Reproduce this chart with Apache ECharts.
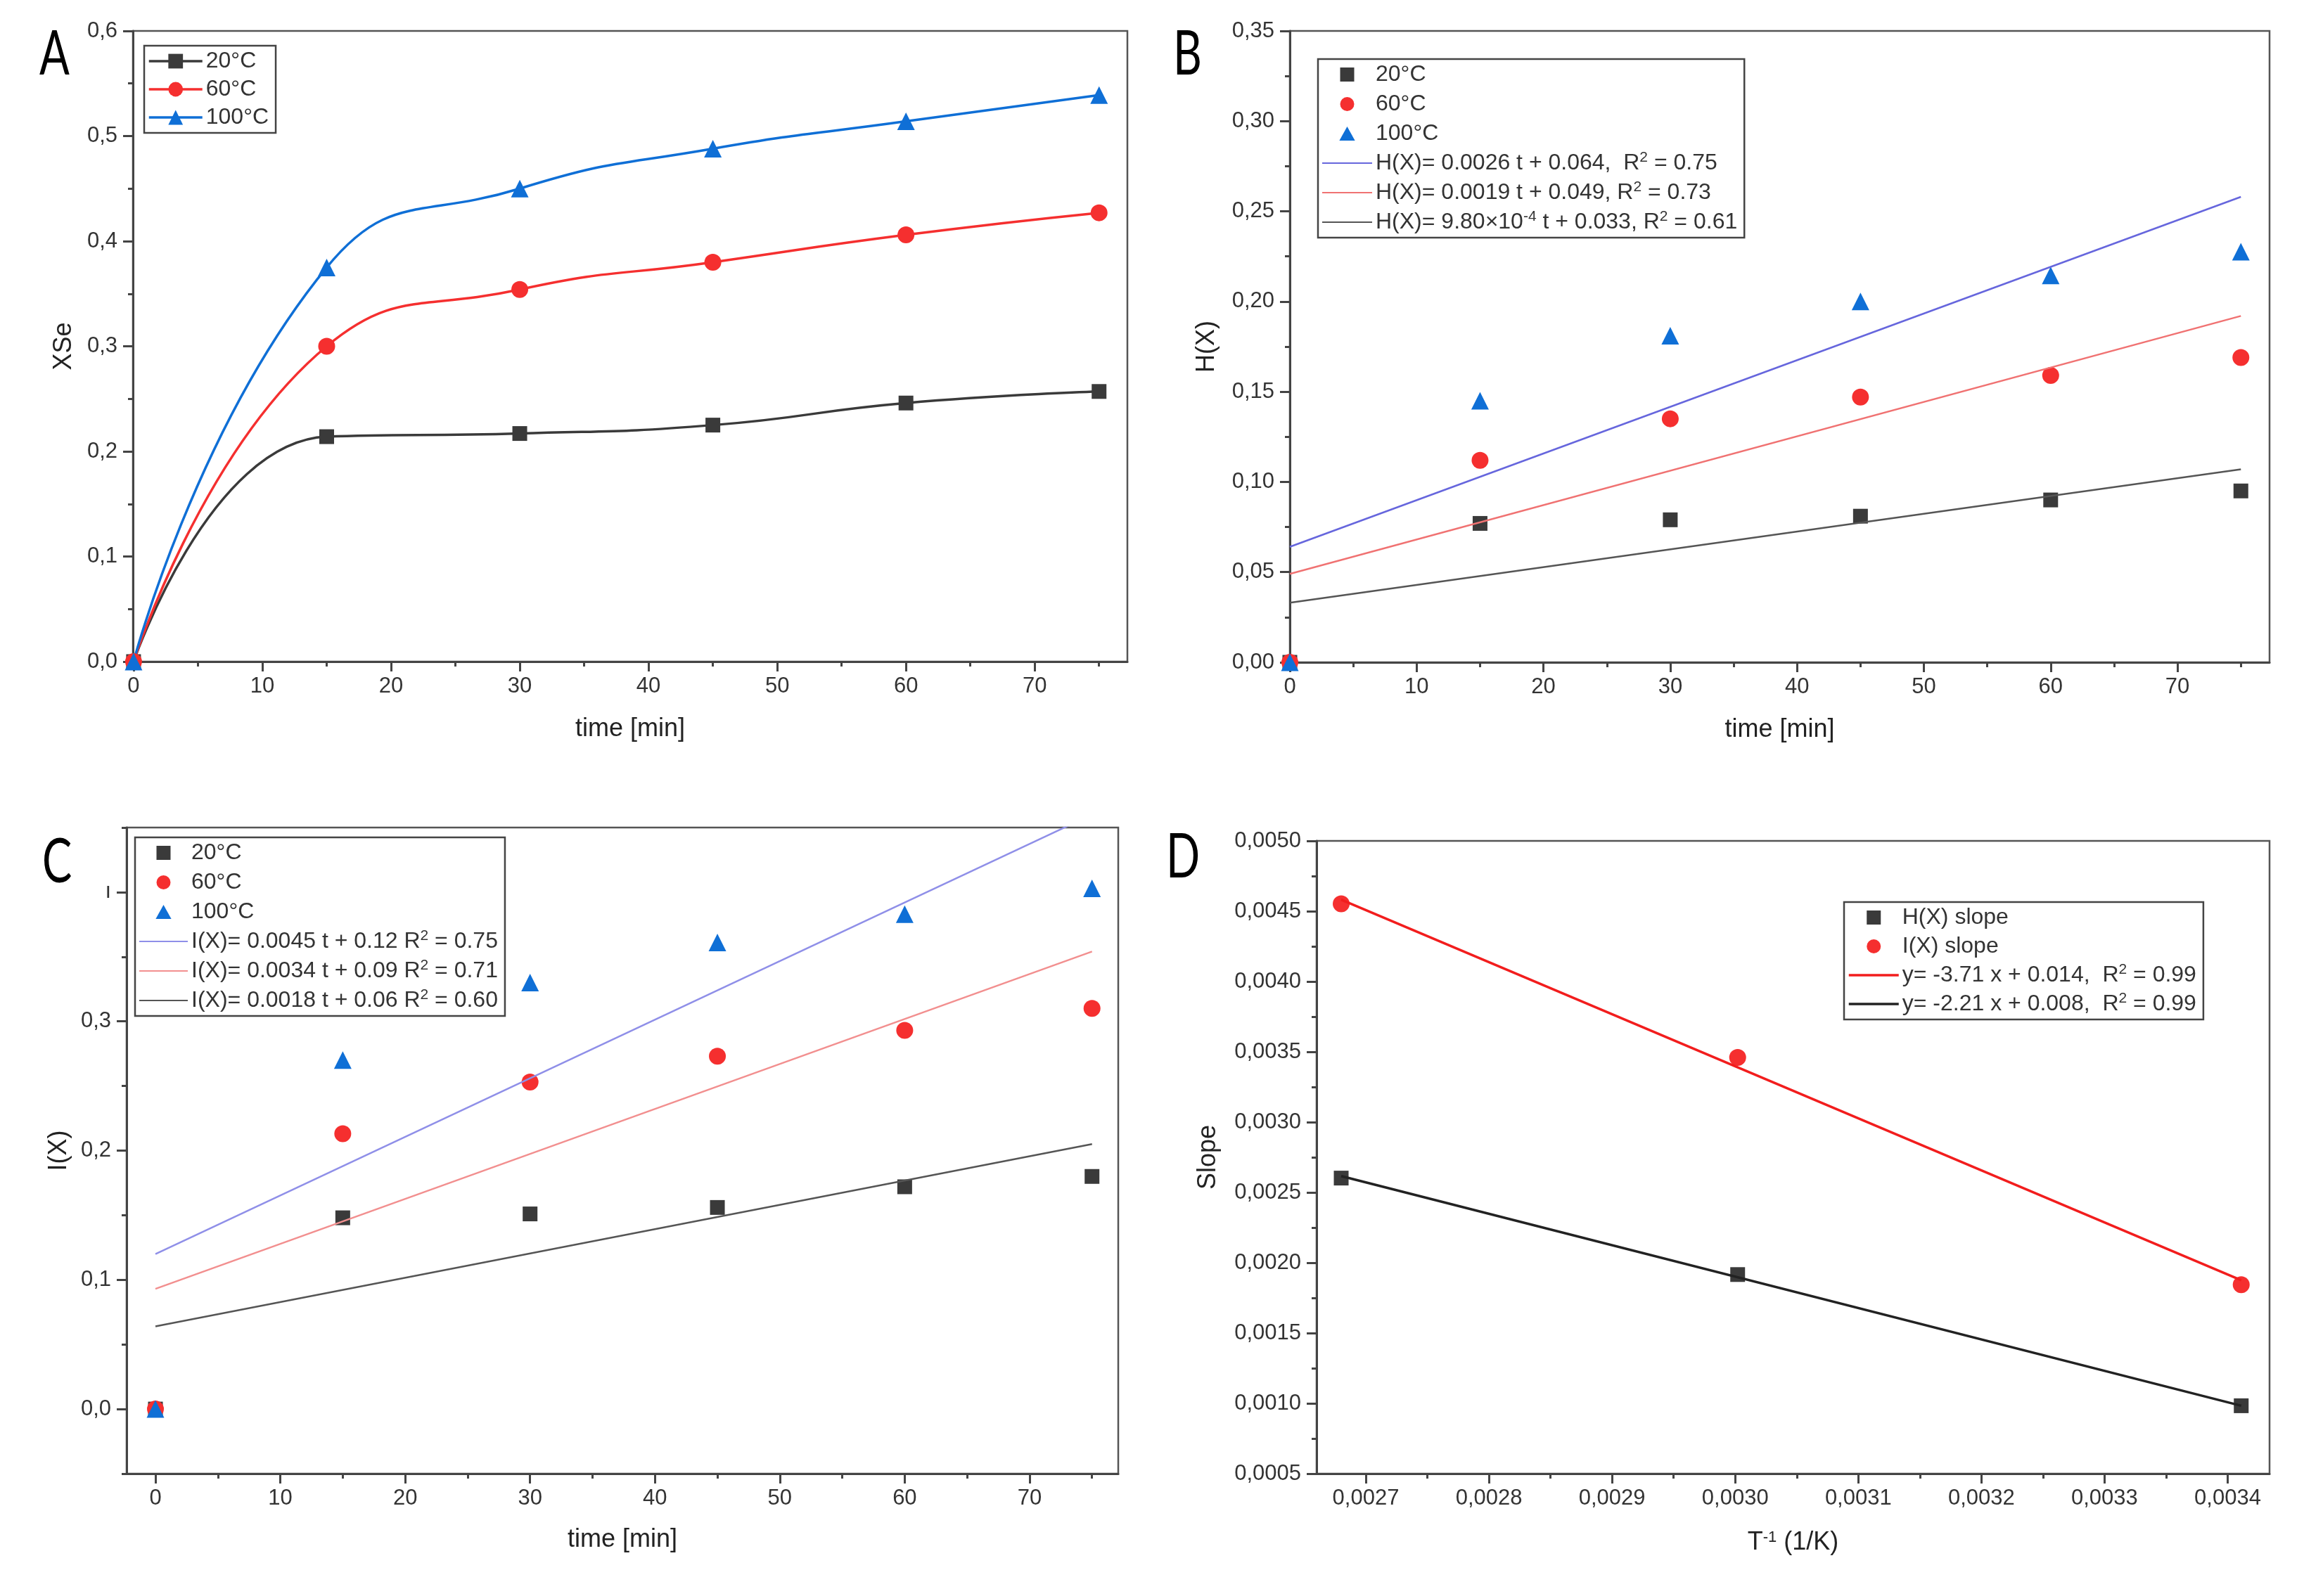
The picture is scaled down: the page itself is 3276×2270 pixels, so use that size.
<!DOCTYPE html>
<html>
<head>
<meta charset="utf-8">
<script src="https://cdn.jsdelivr.net/npm/echarts@6/dist/echarts.min.js"></script>
<style>
  html, body { margin: 0; padding: 0; background: #fff; }
  #chart { width: 3276px; height: 2270px; }
</style>
</head>
<body>
<div id="chart"></div>
<script>
// 时间点 (min)
const timeMin = [0, 15, 30, 45, 60, 75]

// A: XSe
const xse20 = [0, 0.214, 0.217, 0.225, 0.246, 0.257]
const xse60 = [0, 0.300, 0.354, 0.380, 0.406, 0.427]
const xse100 = [0, 0.375, 0.450, 0.488, 0.514, 0.539]

// B: H(X)
const hx20 = [0, 0.077, 0.079, 0.081, 0.090, 0.095]
const hx60 = [0, 0.112, 0.135, 0.147, 0.159, 0.169]
const hx100 = [0, 0.145, 0.181, 0.200, 0.2145, 0.2276]
const fitT = [0, 75]
const hFit100 = [0.064, 0.258]
const hFit60 = [0.049, 0.192]
const hFit20 = [0.033, 0.107]

// C: I(X)
const ix20 = [0, 0.148, 0.151, 0.156, 0.172, 0.180]
const ix60 = [0, 0.213, 0.253, 0.273, 0.293, 0.310]
const ix100 = [0, 0.270, 0.330, 0.361, 0.383, 0.403]
const iFit100 = [0.120, 0.460]
const iFit60 = [0.093, 0.354]
const iFit20 = [0.064, 0.205]

// D: slope vs 1/T
const invT = [0.002680, 0.003002, 0.003411]
const slopeH = [0.002602, 0.001916, 0.000983]
const slopeI = [0.004553, 0.003460, 0.001844]
const dFitT = [0.002680, 0.003411]
const dFitI = [0.004582, 0.001876]
const dFitH = [0.002616, 0.000983]

// 刻度
const tTicks = [0, 10, 20, 30, 40, 50, 60, 70]
const tLabels = ['0', '10', '20', '30', '40', '50', '60', '70']
const tMinor = [5, 15, 25, 35, 45, 55, 65, 75]
const aYTicks = [0, 0.1, 0.2, 0.3, 0.4, 0.5, 0.6]
const aYLabels = ['0,0', '0,1', '0,2', '0,3', '0,4', '0,5', '0,6']
const aYMinor = [0.05, 0.15, 0.25, 0.35, 0.45, 0.55]
const bYTicks = [0, 0.05, 0.1, 0.15, 0.2, 0.25, 0.3, 0.35]
const bYLabels = ['0,00', '0,05', '0,10', '0,15', '0,20', '0,25', '0,30', '0,35']
const bYMinor = [0.025, 0.075, 0.125, 0.175, 0.225, 0.275, 0.325]
const cYTicks = [0, 0.1, 0.2, 0.3, 0.4]
const cYLabels = ['0,0', '0,1', '0,2', '0,3', 'ı']
const cYMinor = [-0.05, 0.05, 0.15, 0.25, 0.35, 0.45]
const dXTicks = [0.0027, 0.0028, 0.0029, 0.0030, 0.0031, 0.0032, 0.0033, 0.0034]
const dXLabels = ['0,0027', '0,0028', '0,0029', '0,0030', '0,0031', '0,0032', '0,0033', '0,0034']
const dXMinor = [0.00275, 0.00285, 0.00295, 0.00305, 0.00315, 0.00325, 0.00335]
const dYTicks = [0.0005, 0.0010, 0.0015, 0.0020, 0.0025, 0.0030, 0.0035, 0.0040, 0.0045, 0.0050]
const dYLabels = ['0,0005', '0,0010', '0,0015', '0,0020', '0,0025', '0,0030', '0,0035', '0,0040', '0,0045', '0,0050']
const dYMinor = [0.00075, 0.00125, 0.00175, 0.00225, 0.00275, 0.00325, 0.00375, 0.00425, 0.00475]

const FONT = 'Liberation Sans'
const AX = '#444'
const BLACK = '#3a3a3a'
const RED = '#f52f2f'
const BLUE = '#0f6fd6'

const machart = echarts.init(document.getElementById('chart'))

const pairs = (xs, ys) => xs.map((x, i) => [x, ys[i]])
const fmt = (ticks, labels) => v => {
	const i = ticks.findIndex(t => Math.abs(t - v) < 1e-10)
	return i >= 0 ? labels[i] : ''
}

// 主刻度轴
const major = (gi, pos, min, max, ticks, labels, name, nameGap, margin) => ({
	type: 'value', gridIndex: gi, position: pos, min: min, max: max,
	axisLine: { show: true, onZero: false, lineStyle: { color: AX, width: 3 } },
	axisTick: { show: true, inside: false, length: 14, customValues: ticks, lineStyle: { color: AX, width: 3 } },
	axisLabel: { customValues: ticks, formatter: fmt(ticks, labels), margin: margin, fontSize: 31, color: '#333', fontFamily: FONT },
	splitLine: { show: false },
	name: name, nameLocation: 'middle', nameGap: nameGap,
	nameTextStyle: {
		fontSize: 36, color: '#222', fontFamily: FONT,
		rich: { s: { fontSize: 22, lineHeight: 22, verticalAlign: 'top', color: '#222', fontFamily: FONT } }
	}
})
// 次刻度轴
const minor = (gi, pos, min, max, ticks) => ({
	type: 'value', gridIndex: gi, position: pos, min: min, max: max,
	axisLine: { show: false, onZero: false },
	axisTick: { show: true, inside: false, length: 7, customValues: ticks, lineStyle: { color: AX, width: 3 } },
	axisLabel: { show: false },
	splitLine: { show: false }
})

const grid = (left, top, width, height) => ({
	left: left, top: top, width: width, height: height,
	show: true, borderColor: '#555', borderWidth: 2.5, backgroundColor: 'transparent'
})

const legendNames = {
	a20: '20°C', a60: '60°C', a100: '100°C',
	b20: '20°C', b60: '60°C', b100: '100°C',
	bf100: 'H(X)= 0.0026 t + 0.064,  R{s|2} = 0.75',
	bf60: 'H(X)= 0.0019 t + 0.049, R{s|2} = 0.73',
	bf20: 'H(X)= 9.80×10{s|-4} t + 0.033, R{s|2} = 0.61',
	c20: '20°C', c60: '60°C', c100: '100°C',
	cf100: 'I(X)= 0.0045 t + 0.12 R{s|2} = 0.75',
	cf60: 'I(X)= 0.0034 t + 0.09 R{s|2} = 0.71',
	cf20: 'I(X)= 0.0018 t + 0.06 R{s|2} = 0.60',
	dH: 'H(X) slope', dI: 'I(X) slope',
	dfI: 'y= -3.71 x + 0.014,  R{s|2} = 0.99',
	dfH: 'y= -2.21 x + 0.008,  R{s|2} = 0.99'
}

// 图例图标: 拟合线只画线, 散点保持比例
const lineOnly = name => ({ name: name, itemStyle: { opacity: 0 } })
const SQUARE = 'path://M0,0L10,0L10,10L0,10Z'
const TRI = 'path://M5,0L10,9L0,9Z'
const icon = (name, path) => ({ name: name, icon: path })

const legend = (left, top, itemWidth, itemHeight, itemGap, data, lw) => ({
	orient: 'vertical', left: left, top: top,
	itemWidth: itemWidth, itemHeight: itemHeight, itemGap: itemGap,
	padding: [4, 10, 4, 5],
	borderColor: AX, borderWidth: 2.5, borderRadius: 0, backgroundColor: '#fff',
	selectedMode: false, symbolKeepAspect: true,
	lineStyle: lw ? { width: lw } : {},
	data: data,
	formatter: name => legendNames[name],
	textStyle: {
		fontSize: 32, lineHeight: 36, color: '#333', fontFamily: FONT,
		rich: { s: { fontSize: 21, lineHeight: 21, verticalAlign: 'top', color: '#333', fontFamily: FONT } }
	}
})

const curve = (name, xi, ys, color, symbol, size) => ({
	name: name, type: 'line', xAxisIndex: xi, yAxisIndex: xi,
	data: pairs(timeMin, ys), smooth: true, clip: false,
	symbol: symbol, symbolSize: size, showSymbol: true,
	lineStyle: { color: color, width: 3.5 }, itemStyle: { color: color }
})
const dots = (name, xi, xs, ys, color, symbol, size) => ({
	name: name, type: 'scatter', xAxisIndex: xi, yAxisIndex: xi,
	data: pairs(xs, ys), clip: false,
	symbol: symbol, symbolSize: size, itemStyle: { color: color, opacity: 1 }
})
const fit = (name, xi, xs, ys, color, width) => ({
	name: name, type: 'line', xAxisIndex: xi, yAxisIndex: xi,
	data: pairs(xs, ys), symbol: 'none', showSymbol: false, clip: true,
	lineStyle: { color: color, width: width }, itemStyle: { color: color }
})

const letter = (t, x, y) => ({
	type: 'text', x: x, y: y, scaleX: 0.72,
	style: { text: t, font: '88px Lato', fill: '#000', textVerticalAlign: 'top' }
})

const option = {
	backgroundColor: '#fff',
	animation: false,
	textStyle: { fontFamily: FONT },
	grid: [
		grid(189, 44, 1414, 897),
		grid(1834, 44, 1393, 898),
		grid(180, 1177, 1410, 919),
		grid(1872, 1196, 1355, 900)
	],
	xAxis: [
		major(0, 'bottom', -0.05, 77.2, tTicks, tLabels, 'time [min]', 78, 20),
		minor(0, 'bottom', -0.05, 77.2, tMinor),
		major(1, 'bottom', 0, 77.26, tTicks, tLabels, 'time [min]', 78, 20),
		minor(1, 'bottom', 0, 77.26, tMinor),
		major(2, 'bottom', -2.31, 77.1, tTicks, tLabels, 'time [min]', 76, 20),
		minor(2, 'bottom', -2.31, 77.1, tMinor),
		major(3, 'bottom', 0.00266, 0.003434, dXTicks, dXLabels, 'T{s|-1} (1/K)', 80, 20),
		minor(3, 'bottom', 0.00266, 0.003434, dXMinor)
	],
	yAxis: [
		major(0, 'left', 0, 0.6, aYTicks, aYLabels, 'XSe', 80, 22),
		minor(0, 'left', 0, 0.6, aYMinor),
		major(1, 'left', 0, 0.35, bYTicks, bYLabels, 'H(X)', 100, 22),
		minor(1, 'left', 0, 0.35, bYMinor),
		major(2, 'left', -0.05, 0.45, cYTicks, cYLabels, 'I(X)', 78, 22),
		minor(2, 'left', -0.05, 0.45, cYMinor),
		major(3, 'left', 0.0005, 0.0050, dYTicks, dYLabels, 'Slope', 136, 22),
		minor(3, 'left', 0.0005, 0.0050, dYMinor)
	],
	legend: [
		legend(205, 65, 76, 26, 4, ['a20', 'a60', 'a100'], 3.5),
		legend(1874, 84, 71, 20, 6, [icon('b20', SQUARE), 'b60', icon('b100', TRI), lineOnly('bf100'), lineOnly('bf60'), lineOnly('bf20')]),
		legend(192, 1191, 69, 20, 6, [icon('c20', SQUARE), 'c60', icon('c100', TRI), lineOnly('cf100'), lineOnly('cf60'), lineOnly('cf20')]),
		legend(2622, 1283, 71, 20, 5, [icon('dH', SQUARE), 'dI', lineOnly('dfI'), lineOnly('dfH')], 3.5)
	],
	graphic: [
		letter('A', 56, 34),
		letter('B', 1668, 34),
		letter('C', 60, 1183),
		letter('D', 1658, 1176)
	],
	series: [
		// A
		curve('a20', 0, xse20, BLACK, 'rect', 21),
		curve('a60', 0, xse60, RED, 'circle', 24),
		curve('a100', 0, xse100, BLUE, 'triangle', 25),
		// B
		fit('bf100', 2, fitT, hFit100, '#6666dd', 2.5),
		fit('bf60', 2, fitT, hFit60, '#f07272', 2.5),
		fit('bf20', 2, fitT, hFit20, '#555', 2.5),
		dots('b20', 2, timeMin, hx20, BLACK, 'rect', 21),
		dots('b60', 2, timeMin, hx60, RED, 'circle', 24),
		dots('b100', 2, timeMin, hx100, BLUE, 'triangle', 25),
		// C
		fit('cf100', 4, fitT, iFit100, '#8f8fe8', 2.5),
		fit('cf60', 4, fitT, iFit60, '#f28f8f', 2.5),
		fit('cf20', 4, fitT, iFit20, '#555', 2.5),
		dots('c20', 4, timeMin, ix20, BLACK, 'rect', 21),
		dots('c60', 4, timeMin, ix60, RED, 'circle', 24),
		dots('c100', 4, timeMin, ix100, BLUE, 'triangle', 25),
		// D
		fit('dfI', 6, dFitT, dFitI, '#f21d1d', 3.5),
		fit('dfH', 6, dFitT, dFitH, '#222', 3.5),
		dots('dH', 6, invT, slopeH, BLACK, 'rect', 21),
		dots('dI', 6, invT, slopeI, RED, 'circle', 24)
	]
}

machart.setOption(option)
window.addEventListener('resize', function () {
	machart.resize()
})
</script>
</body>
</html>
